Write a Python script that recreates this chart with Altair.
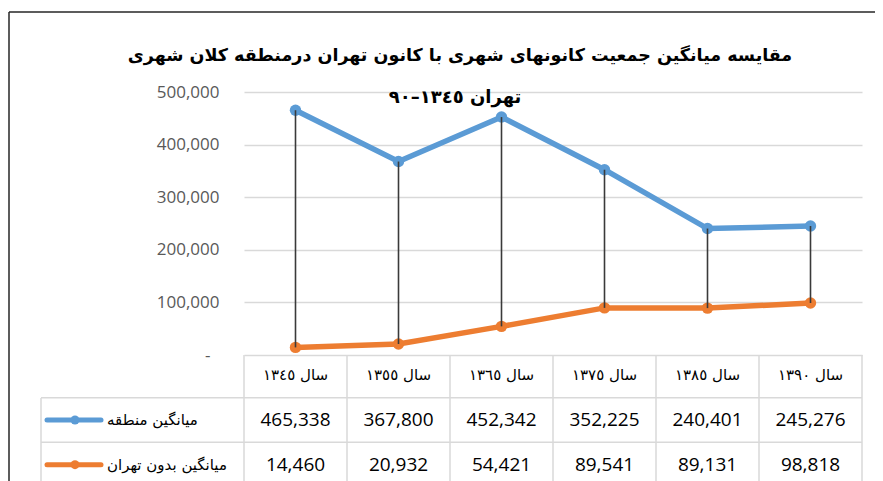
import altair as alt
import pandas as pd

# ---------------- data ----------------
TITLE = "مقایسه میانگین جمعیت کانونهای شهری با کانون تهران درمنطقه کلان شهری"
SUBTITLE = "تهران ١٣٤٥–٩٠"
years = ["١٣٤٥", "١٣٥٥", "١٣٦٥", "١٣٧٥", "١٣٨٥", "١٣٩٠"]
year_labels = ["سال " + y for y in years]
series_names = ["میانگین منطقه", "میانگین بدون تهران"]
region_avg = [465338, 367800, 452342, 352225, 240401, 245276]
no_tehran_avg = [14460, 20932, 54421, 89541, 89131, 98818]
y_ticks = [0, 100000, 200000, 300000, 400000, 500000]
colors = ["#5B9BD5", "#ED7D31"]

# ---------------- tables ----------------
long_df = pd.DataFrame(
    [{"year": y, "series": series_names[0], "value": v} for y, v in zip(years, region_avg)]
    + [{"year": y, "series": series_names[1], "value": v} for y, v in zip(years, no_tehran_avg)]
)
wide_df = pd.DataFrame({"year": years, "hi": region_avg, "lo": no_tehran_avg})
header_df = pd.DataFrame({"year": years, "row": "h", "label": year_labels})
legend_df = pd.DataFrame({"series": series_names})
edge_df = pd.DataFrame({"year": years})
last_edge_df = pd.DataFrame({"year": years[-1:]})
hline_df = pd.DataFrame({"series": series_names})
one = alt.Data(values=[{"a": 1}])

PER_FONT = "DejaVu Sans"
NUM_FONT = "Open Sans"
GRID = "#D9D9D9"

xscale = alt.Scale(type="band", domain=years, paddingInner=0, paddingOuter=0)
yscale = alt.Scale(domain=[0, 500000])
row_domain = ["h"] + series_names
rowscale = alt.Scale(type="band", domain=row_domain, range=[261, 395], paddingInner=0, paddingOuter=0)
cscale = alt.Scale(domain=series_names, range=colors)


def X(band=0.5):
    return alt.X("year:N", scale=xscale, axis=None, bandPosition=band)


# ---------------- chart area ----------------
yaxis = alt.Axis(
    values=y_ticks, grid=True, domain=False, ticks=False, title=None,
    labelExpr="datum.value == 0 ? '-' : format(datum.value, ',')",
    labelPadding={"condition": {"test": "datum.value == 0", "value": 34}, "value": 25},
    labelFont=NUM_FONT, labelFontSize=17, labelColor="#595959",
    gridColor=GRID, gridWidth=1.3,
)

lines = alt.Chart(long_df).mark_line(strokeWidth=5.5).encode(
    x=X(), y=alt.Y("value:Q", scale=yscale, axis=yaxis),
    color=alt.Color("series:N", scale=cscale, legend=None),
    detail="series:N",
)
points = alt.Chart(long_df).mark_circle(size=130, opacity=1).encode(
    x=X(), y=alt.Y("value:Q", scale=yscale),
    color=alt.Color("series:N", scale=cscale, legend=None),
)
drops = alt.Chart(wide_df).mark_rule(color="#3A3A3A", strokeWidth=1.6).encode(
    x=X(), y=alt.Y("hi:Q", scale=yscale), y2="lo:Q"
)
plot = alt.layer(lines, points, drops)

# ---------------- data table ----------------
vlines = alt.Chart(edge_df).mark_rule(color=GRID, strokeWidth=1.5).encode(
    x=X(0), y=alt.value(263), y2=alt.value(410)
)
vline_last = alt.Chart(last_edge_df).mark_rule(color=GRID, strokeWidth=1.5).encode(
    x=X(1), y=alt.value(263), y2=alt.value(410)
)
vline_left = alt.Chart(one).mark_rule(color=GRID, strokeWidth=1.5).encode(
    x=alt.value(-203), y=alt.value(306), y2=alt.value(410)
)
hlines = alt.Chart(hline_df).mark_rule(color=GRID, strokeWidth=1.5).encode(
    y=alt.Y("series:N", scale=rowscale, axis=None, bandPosition=0),
    x=alt.value(-203), x2=alt.value(618),
)
header_text = alt.Chart(header_df).mark_text(font=PER_FONT, fontSize=15, color="#000000").encode(
    x=X(), y=alt.Y("row:N", scale=rowscale, axis=None, bandPosition=0.5), text="label:N"
)
value_text = alt.Chart(long_df).mark_text(font=NUM_FONT, fontSize=19, color="#000000").encode(
    x=X(), y=alt.Y("series:N", scale=rowscale, axis=None, bandPosition=0.5),
    text=alt.Text("value:Q", format=","),
)
key_line = alt.Chart(legend_df).mark_rule(strokeWidth=5, strokeCap="round").encode(
    x=alt.value(-197), x2=alt.value(-143),
    y=alt.Y("series:N", scale=rowscale, axis=None, bandPosition=0.5),
    color=alt.Color("series:N", scale=cscale, legend=None),
)
key_dot = alt.Chart(legend_df).mark_circle(size=80, opacity=1).encode(
    x=alt.value(-169),
    y=alt.Y("series:N", scale=rowscale, axis=None, bandPosition=0.5),
    color=alt.Color("series:N", scale=cscale, legend=None),
)
key_text = alt.Chart(legend_df).mark_text(font=PER_FONT, fontSize=15, color="#000000", align="left").encode(
    x=alt.value(-137),
    y=alt.Y("series:N", scale=rowscale, axis=None, bandPosition=0.5),
    text="series:N",
)
table = alt.layer(vlines, vline_last, vline_left, hlines, header_text, value_text, key_line, key_dot, key_text)

# ---------------- frame & titles ----------------
frame_top = alt.Chart(one).mark_rule(color="#262626", strokeWidth=1.5).encode(
    x=alt.value(-235), x2=alt.value(640), y=alt.value(-80)
)
frame_left = alt.Chart(one).mark_rule(color="#262626", strokeWidth=1.5).encode(
    x=alt.value(-235), y=alt.value(-80), y2=alt.value(410)
)
title = alt.Chart(alt.Data(values=[{"t": TITLE}])).mark_text(
    font=PER_FONT, fontSize=17.5, fontWeight="bold", color="#000000", baseline="middle"
).encode(x=alt.value(216), y=alt.value(-36), text="t:N")
subtitle = alt.Chart(alt.Data(values=[{"t": SUBTITLE}])).mark_text(
    font=PER_FONT, fontSize=18, fontWeight="bold", color="#000000", baseline="middle"
).encode(x=alt.value(211), y=alt.value(6), text="t:N")
deco = alt.layer(frame_top, frame_left, title, subtitle)

chart = (
    alt.layer(table, plot, deco)
    .resolve_scale(y="independent")
    .properties(
        width=618, height=263,
        autosize=alt.AutoSizeParams(type="none"),
        padding={"left": 236, "top": 84, "right": 13, "bottom": 126},
        background="white",
    )
    .configure_view(stroke=None)
)

chart.save("out.html", embed_options={"renderer": "svg", "actions": False})
